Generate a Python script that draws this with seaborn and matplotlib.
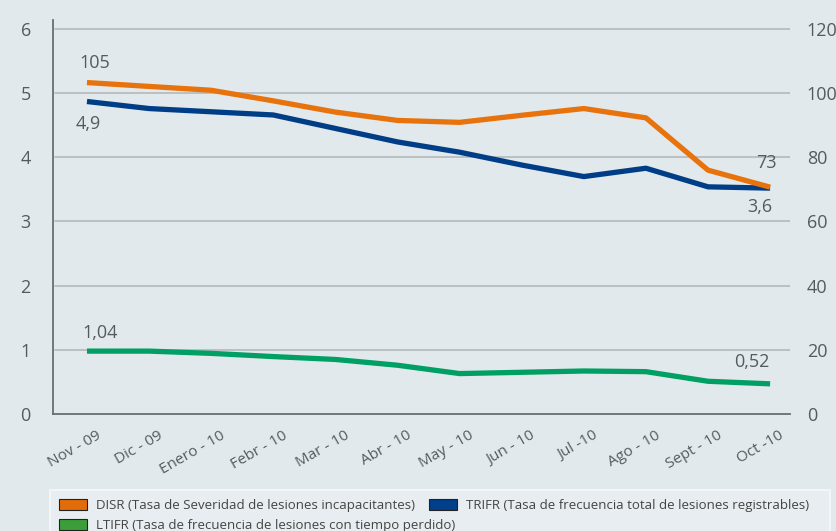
import matplotlib
matplotlib.use("Agg")
import matplotlib.pyplot as plt
import matplotlib.transforms as mtrans
from matplotlib.patches import Patch, Rectangle
import seaborn as sns
import numpy as np
import pandas as pd

months = ["Nov - 09", "Dic - 09", "Enero - 10", "Febr - 10", "Mar - 10", "Abr - 10",
          "May - 10", "Jun - 10", "Jul -10", "Ago - 10", "Sept - 10", "Oct -10"]
disr = [103.3, 102.1, 100.9, 97.6, 94.1, 91.5, 90.9, 93.1, 95.2, 92.3, 76.0, 70.7]
trifr = [4.87, 4.76, 4.71, 4.66, 4.45, 4.24, 4.08, 3.88, 3.70, 3.83, 3.54, 3.52]
ltifr = [0.98, 0.98, 0.945, 0.895, 0.85, 0.76, 0.63, 0.65, 0.67, 0.66, 0.51, 0.47]

labels = ["DISR (Tasa de Severidad de lesiones incapacitantes)",
          "TRIFR (Tasa de frecuencia total de lesiones registrables)",
          "LTIFR (Tasa de frecuencia de lesiones con tiempo perdido)"]

bg = "#e2e9ed"
txt = "#555a5e"
c_orange = "#e8730c"
c_blue = "#003d87"
c_green = "#00a064"

sns.set_theme(style="white", rc={"figure.facecolor": bg, "axes.facecolor": bg})
plt.rcParams["font.family"] = ["Open Sans", "DejaVu Sans"]

df = pd.DataFrame({"x": np.arange(len(months)), "disr": disr, "trifr": trifr, "ltifr": ltifr})

fig = plt.figure(figsize=(8.37, 5.31), dpi=100)
ax = fig.add_axes([53 / 837, 1 - 414 / 531, (790 - 53) / 837, (414 - 20) / 531])
ax2 = ax.twinx()

sns.lineplot(data=df, x="x", y="trifr", ax=ax, color=c_blue, lw=3.8, solid_capstyle="butt")
sns.lineplot(data=df, x="x", y="ltifr", ax=ax, color=c_green, lw=3.8, solid_capstyle="butt")
sns.lineplot(data=df, x="x", y="disr", ax=ax2, color=c_orange, lw=3.8, solid_capstyle="butt")

x0, x1 = -0.547, 11.32
ax.set_xlim(x0, x1)
ax.set_ylim(0, 6.14)
ax2.set_ylim(0, 122.8)

ax.set_yticks(range(0, 7))
ax2.set_yticks(range(0, 121, 20))
for y in range(1, 7):
    ax.axhline(y, color="#b4b8bb", lw=1.2, zorder=0, xmin=0.003)

ax.set_xticks(np.arange(len(months)))
ax.set_xticklabels(months, rotation=30, ha="right", va="top", rotation_mode="anchor",
                   fontsize=11, color=txt)
ax.set_xticks(np.linspace(x0, 11.24, 13), minor=True)
ax.tick_params(axis="x", which="major", length=0, pad=10)
ax.tick_params(axis="x", which="minor", length=5, width=1.2, color="#6a6e72", direction="out")
off = mtrans.ScaledTranslation(9 / 100, 0, fig.dpi_scale_trans)
for lab in ax.get_xticklabels():
    lab.set_transform(lab.get_transform() + off)

ax.tick_params(axis="y", length=0, pad=16, labelsize=13, labelcolor=txt)
ax2.tick_params(axis="y", length=0, pad=12, labelsize=13, labelcolor=txt)
ax.set_xlabel("")
ax.set_ylabel("")
ax2.set_ylabel("")

for a in (ax, ax2):
    for s in ("top", "right"):
        a.spines[s].set_visible(False)
ax2.spines["left"].set_visible(False)
ax2.spines["bottom"].set_visible(False)
ax.spines["left"].set_color("#6a6e72")
ax.spines["left"].set_linewidth(1.3)
ax.spines["bottom"].set_color("#6a6e72")
ax.spines["bottom"].set_linewidth(1.3)

ann = dict(textcoords="offset pixels", ha="center", va="center", fontsize=13, color=txt)
ax2.annotate("105", xy=(0, disr[0]), xytext=(8, 20), **ann)
ax.annotate("4,9", xy=(0, trifr[0]), xytext=(1, -23), **ann)
ax2.annotate("73", xy=(11, disr[-1]), xytext=(-4, 24), **ann)
ax.annotate("3,6", xy=(11, trifr[-1]), xytext=(-10, -19), **ann)
ax.annotate("1,04", xy=(0, ltifr[0]), xytext=(13, 18), **ann)
ax.annotate("0,52", xy=(11, ltifr[-1]), xytext=(-18, 22), **ann)

# legend background box
fig.patches.append(Rectangle((50 / 837, -0.02), 780 / 837, 41 / 531 + 0.02,
                             transform=fig.transFigure, facecolor="#e7edf0",
                             edgecolor="#f3f6f7", lw=1.5, zorder=0))

leg_kw = dict(loc="upper left", frameon=False, fontsize=9.5, handlelength=2.1,
              handleheight=0.85, handletextpad=0.7, borderaxespad=0, borderpad=0,
              columnspacing=1.1, labelcolor="#444444")
h_disr = Patch(facecolor="#e36c0a", edgecolor="#222222", lw=0.8)
h_trifr = Patch(facecolor="#003f8a", edgecolor="#222222", lw=0.8)
h_ltifr = Patch(facecolor="#3c9e3a", edgecolor="#222222", lw=0.8)
leg1 = fig.legend([h_disr, h_trifr], [labels[0], labels[1]], ncol=2,
                  bbox_to_anchor=(59 / 837, 1 - 499 / 531), **leg_kw)
leg2 = fig.legend([h_ltifr], [labels[2]], ncol=1,
                  bbox_to_anchor=(59 / 837, 1 - 519 / 531), **leg_kw)

fig.savefig("out.png", dpi=100, facecolor=bg)
